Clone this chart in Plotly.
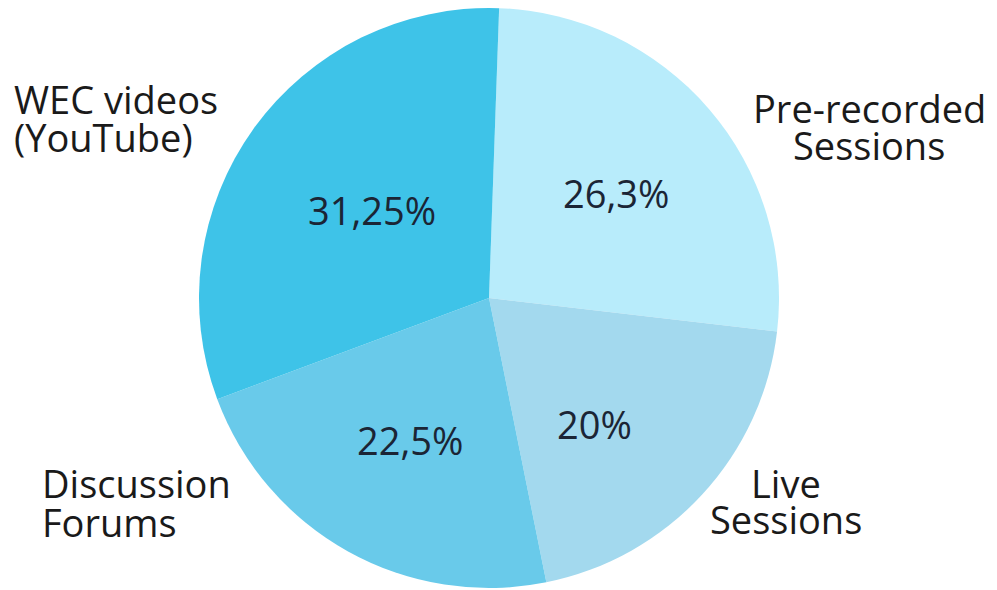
import plotly.graph_objects as go

categories = ["Pre-recorded Sessions", "Live Sessions", "Discussion Forums", "WEC videos (YouTube)"]
values = [26.3, 20, 22.5, 31.25]
value_labels = ["26,3%", "20%", "22,5%", "31,25%"]
colors = ["#B8ECFB", "#A3D9EE", "#69CAEA", "#3EC3E8"]

W, H = 997, 590
R = 290
cx, cy = 489, 298

fig = go.Figure(go.Pie(
    labels=categories,
    values=values,
    textinfo="none",
    marker=dict(colors=colors, line=dict(width=0)),
    sort=False,
    direction="clockwise",
    rotation=2,
    showlegend=False,
    hoverinfo="label+value",
    domain=dict(x=[(cx - R) / W, (cx + R) / W], y=[(H - cy - R) / H, (H - cy + R) / H]),
))

# value labels inside slices (pixel positions of label centres)
value_pos = [(616, 193), (594, 424), (410, 440), (372, 210)]
pct_font = dict(family="Open Sans", size=38, color="#1b2535")
for lbl, (x, y) in zip(value_labels, value_pos):
    fig.add_annotation(
        text=lbl, x=x / W, y=1 - y / H, xref="paper", yref="paper",
        xanchor="center", yanchor="middle", showarrow=False, font=pct_font,
    )

name_font = dict(family="Open Sans", size=38, color="#1a1a1a")
name_lines = [
    ("WEC videos", 12, 99, "left"),
    ("(YouTube)", 12, 137, "left"),
    ("Pre-recorded", 869, 108, "center"),
    ("Sessions", 869, 145, "center"),
    ("Live", 786, 483, "center"),
    ("Sessions", 786, 519, "center"),
    ("Discussion", 40, 483, "left"),
    ("Forums", 40, 522, "left"),
]
for txt, x, y, al in name_lines:
    fig.add_annotation(
        text=txt, x=x / W, y=1 - y / H, xref="paper", yref="paper",
        xanchor=al, yanchor="middle", showarrow=False, font=name_font,
    )

fig.update_layout(
    width=W, height=H,
    margin=dict(l=0, r=0, t=0, b=0),
    paper_bgcolor="white", plot_bgcolor="white",
)

fig.write_html("out.html", config={"displayModeBar": False},
               post_script="document.body.style.margin='0';")
